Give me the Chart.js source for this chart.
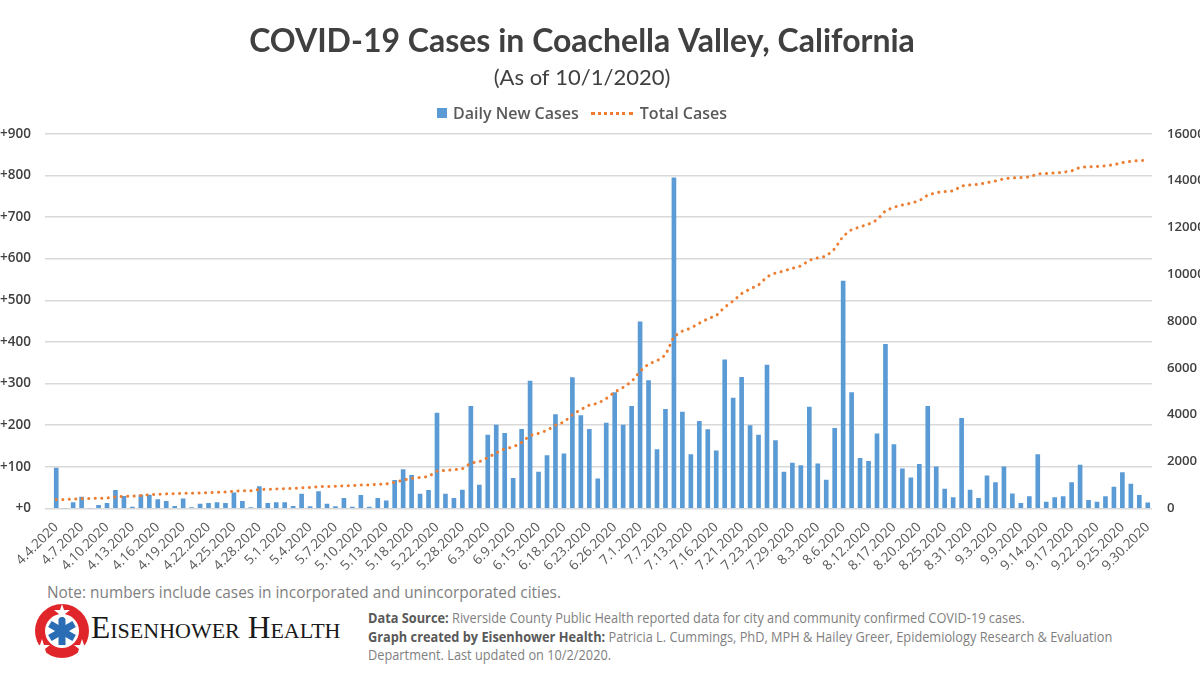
<!DOCTYPE html>
<html>
<head>
<meta charset="utf-8">
<script src="https://cdn.jsdelivr.net/npm/chart.js@4.4.0/dist/chart.umd.min.js"></script>
<style>
  html, body { margin: 0; padding: 0; background: #fff; }
  #page { position: relative; width: 1200px; height: 675px; overflow: hidden; font-family: "Open Sans", sans-serif; }
  /* canvas starts a bit left of the page so the centred title sits where the original one does */
  #chartBox { position: absolute; left: -36px; top: 0; width: 1236px; height: 579px; }
  #legend { position: absolute; left: 437px; top: 102px; display: flex; align-items: center; font-size: 16px; font-weight: 600; color: #595959; white-space: nowrap; }
  #legend .box { width: 10px; height: 10px; margin-right: 6px; }
  #legend .dots { width: 42px; height: 0; border-top: 3px dotted #ed7d31; margin: 0 7px 0 12px; }
  .note { position: absolute; left: 47px; top: 582px; font-size: 15.4px; color: #7f7f7f; }
  .logo { position: absolute; left: 34px; top: 603px; }
  .brand { position: absolute; left: 91px; top: 610px; font-family: "Liberation Serif", "DejaVu Serif", serif; font-size: 31.5px; color: #1a1a1a; font-variant: small-caps; }
  .source { position: absolute; left: 368px; top: 609px; font-size: 13.6px; line-height: 18.5px; color: #7f7f7f; transform: scaleX(0.94); transform-origin: 0 0; white-space: nowrap; }
  .source b { color: #595959; }
</style>
</head>
<body>
<div id="page">
  <div id="chartBox"><canvas id="casesChart"></canvas></div>
  <div id="legend"></div>
  <div class="note">Note: numbers include cases in incorporated and unincorporated cities.</div>
  <svg class="logo" width="56" height="56" viewBox="0 0 56 56">
    <circle cx="28" cy="28" r="27" fill="#e0262b"/>
    <circle cx="28" cy="28" r="17" fill="#fff"/>
    <g fill="#2a6db5" transform="translate(28,28)">
      <rect x="-3.5" y="-14" width="7" height="28"/>
      <rect x="-3.5" y="-14" width="7" height="28" transform="rotate(60)"/>
      <rect x="-3.5" y="-14" width="7" height="28" transform="rotate(120)"/>
    </g>
    <g fill="#fff">
      <polygon points="28,1 30,7 36,7 31,11 33,17 28,13 23,17 25,11 20,7 26,7"/>
      <polygon points="8,36 10,42 16,42 11,46 13,52 8,48 3,52 5,46 0,42 6,42"/>
      <polygon points="48,36 50,42 56,42 51,46 53,52 48,48 43,52 45,46 40,42 46,42"/>
    </g>
  </svg>
  <div class="brand">Eisenhower Health</div>
  <div class="source">
    <b>Data Source:</b> Riverside County Public Health reported data for city and community confirmed COVID-19 cases.<br>
    <b>Graph created by Eisenhower Health:</b> Patricia L. Cummings, PhD, MPH &amp; Hailey Greer, Epidemiology Research &amp; Evaluation<br>
    Department. Last updated on 10/2/2020.
  </div>
</div>
<script>
// report dates (only every third one is printed on the axis)
const dates = [
  "4.4.2020", "4.5.2020", "4.6.2020", "4.7.2020", "4.8.2020", "4.9.2020", "4.10.2020", "4.11.2020", "4.12.2020", "4.13.2020",
  "4.14.2020", "4.15.2020", "4.16.2020", "4.17.2020", "4.18.2020", "4.19.2020", "4.20.2020", "4.21.2020", "4.22.2020", "4.23.2020",
  "4.24.2020", "4.25.2020", "4.26.2020", "4.27.2020", "4.28.2020", "4.29.2020", "4.30.2020", "5.1.2020", "5.2.2020", "5.3.2020",
  "5.4.2020", "5.5.2020", "5.6.2020", "5.7.2020", "5.8.2020", "5.9.2020", "5.10.2020", "5.11.2020", "5.12.2020", "5.13.2020",
  "5.14.2020", "5.15.2020", "5.18.2020", "5.20.2020", "5.21.2020", "5.22.2020", "5.26.2020", "5.27.2020", "5.28.2020", "5.29.2020",
  "6.2.2020", "6.3.2020", "6.5.2020", "6.8.2020", "6.9.2020", "6.11.2020", "6.12.2020", "6.15.2020", "6.16.2020", "6.17.2020",
  "6.18.2020", "6.19.2020", "6.22.2020", "6.23.2020", "6.24.2020", "6.25.2020", "6.26.2020", "6.29.2020", "6.30.2020", "7.1.2020",
  "7.2.2020", "7.6.2020", "7.7.2020", "7.8.2020", "7.10.2020", "7.13.2020", "7.14.2020", "7.15.2020", "7.16.2020", "7.17.2020",
  "7.20.2020", "7.21.2020", "7.22.2020", "7.22.2020", "7.23.2020", "7.24.2020", "7.28.2020", "7.29.2020", "7.30.2020", "7.31.2020",
  "8.3.2020", "8.4.2020", "8.5.2020", "8.6.2020", "8.7.2020", "8.11.2020", "8.12.2020", "8.13.2020", "8.14.2020", "8.17.2020",
  "8.18.2020", "8.19.2020", "8.20.2020", "8.21.2020", "8.24.2020", "8.25.2020", "8.26.2020", "8.28.2020", "8.31.2020", "9.1.2020",
  "9.2.2020", "9.3.2020", "9.4.2020", "9.8.2020", "9.9.2020", "9.10.2020", "9.11.2020", "9.14.2020", "9.15.2020", "9.16.2020",
  "9.17.2020", "9.18.2020", "9.21.2020", "9.22.2020", "9.23.2020", "9.24.2020", "9.25.2020", "9.28.2020", "9.29.2020", "9.30.2020"
];

const dailyNewCases = [
  97, 0, 14, 27, 0, 7, 12, 43, 29, 3,
  32, 32, 21, 17, 5, 23, 2, 10, 12, 14,
  12, 37, 17, 2, 52, 12, 14, 14, 5, 34,
  4, 40, 10, 4, 24, 3, 31, 3, 24, 18,
  67, 93, 79, 34, 43, 229, 34, 24, 44, 245,
  56, 176, 200, 180, 72, 190, 306, 87, 127, 225,
  131, 314, 223, 190, 71, 205, 278, 200, 245, 448,
  307, 141, 238, 794, 231, 129, 209, 189, 138, 357,
  265, 315, 199, 176, 344, 163, 87, 109, 103, 243,
  107, 68, 192, 546, 278, 120, 113, 179, 394, 153,
  95, 73, 106, 245, 100, 46, 26, 216, 44, 24,
  78, 62, 100, 35, 12, 28, 129, 15, 26, 28,
  62, 104, 19, 15, 28, 51, 86, 58, 31, 13
];

const totalCases = [
  380, 380, 394, 421, 421, 428, 440, 483, 512, 515,
  547, 579, 600, 617, 622, 645, 647, 657, 669, 683,
  695, 732, 749, 751, 803, 815, 829, 843, 848, 882,
  886, 926, 936, 940, 964, 967, 998, 1001, 1025, 1043,
  1110, 1203, 1282, 1316, 1359, 1588, 1622, 1646, 1690, 1935,
  1991, 2167, 2367, 2547, 2619, 2809, 3115, 3202, 3329, 3554,
  3685, 3999, 4222, 4412, 4483, 4688, 4966, 5166, 5411, 5859,
  6166, 6307, 6545, 7339, 7570, 7699, 7908, 8097, 8235, 8592,
  8857, 9172, 9371, 9547, 9891, 10054, 10141, 10250, 10353, 10596,
  10703, 10771, 11083, 11629, 11907, 12027, 12140, 12319, 12713, 12866,
  12961, 13034, 13140, 13385, 13485, 13531, 13557, 13773, 13817, 13841,
  13919, 13981, 14081, 14116, 14128, 14156, 14285, 14300, 14326, 14354,
  14416, 14570, 14589, 14604, 14632, 14683, 14769, 14827, 14858, 14871
];

const leftTicks = { min: 0, max: 900, step: 100 };
const rightTicks = { min: 0, max: 16000, step: 2000 };

const barColor = "#5b9bd5";
const lineColor = "#ed7d31";
const gridColor = "#d9d9d9";
const textGray = "#595959";
const tickFont = { family: "'Open Sans', 'Noto Sans', sans-serif", size: 13.5, weight: "600" };

// simple legend in the page (square for bars, dotted line for the total)
const legendEl = document.getElementById("legend");
legendEl.innerHTML =
  `<span class="box" style="background:${barColor}"></span><span>Daily New Cases</span>` +
  `<span class="dots"></span><span>Total Cases</span>`;

const ctx = document.getElementById("casesChart").getContext("2d");
new Chart(ctx, {
  data: {
    labels: dates,
    datasets: [
      {
        type: "bar",
        label: "Daily New Cases",
        data: dailyNewCases,
        backgroundColor: barColor,
        barThickness: 4,
        yAxisID: "y",
        order: 2,
      },
      {
        type: "line",
        label: "Total Cases",
        data: totalCases,
        borderColor: lineColor,
        borderWidth: 3,
        borderDash: [0.1, 6.4],
        borderCapStyle: "round",
        pointRadius: 0,
        tension: 0,
        yAxisID: "y1",
        order: 1,
      },
    ],
  },
  options: {
    responsive: true,
    maintainAspectRatio: false,
    animation: false,
    layout: { padding: { top: 0, left: 0, right: 0, bottom: 2 } },
    plugins: {
      title: {
        display: true,
        text: "COVID-19 Cases in Coachella Valley, California",
        color: "#404040",
        font: { family: "Lato, 'Open Sans', sans-serif", size: 32, weight: "bold" },
        padding: { top: 22, bottom: 4 },
      },
      subtitle: {
        display: true,
        text: "(As of 10/1/2020)",
        color: "#404040",
        font: { family: "Lato, 'Open Sans', sans-serif", size: 22 },
        padding: { bottom: 43 },
      },
      legend: { display: false },
      tooltip: { enabled: false },
    },
    scales: {
      x: {
        grid: { display: false },
        border: { display: false },
        // rotated labels may hang past the plot edges, like in the original
        afterFit: (scale) => {
          scale.paddingLeft = 0;
          scale.paddingRight = 0;
        },
        ticks: {
          autoSkip: false,
          maxRotation: 45,
          minRotation: 45,
          color: textGray,
          font: { family: "'Open Sans', 'Noto Sans', sans-serif", size: 13.5 },
          callback: (value, index) => (index % 3 === 0 ? dates[index] : null),
        },
      },
      y: {
        position: "left",
        min: leftTicks.min,
        max: leftTicks.max,
        // short tick marks in grid colour make the gridlines run a little past the first bar
        grid: { color: gridColor, lineWidth: 1.5, drawTicks: true, tickLength: 7, tickColor: gridColor },
        border: { display: false },
        afterFit: (scale) => { scale.width = 88; },
        ticks: {
          stepSize: leftTicks.step,
          color: "#404040",
          padding: 14,
          font: tickFont,
          callback: (v) => "+" + v,
        },
      },
      y1: {
        position: "right",
        min: rightTicks.min,
        max: rightTicks.max,
        grid: { display: false },
        border: { display: false },
        afterFit: (scale) => { scale.width = 48; },
        ticks: {
          stepSize: rightTicks.step,
          color: "#404040",
          padding: 7,
          font: { ...tickFont, size: 13.2 },
          callback: (v) => String(v),
        },
      },
    },
  },
});
</script>
</body>
</html>
